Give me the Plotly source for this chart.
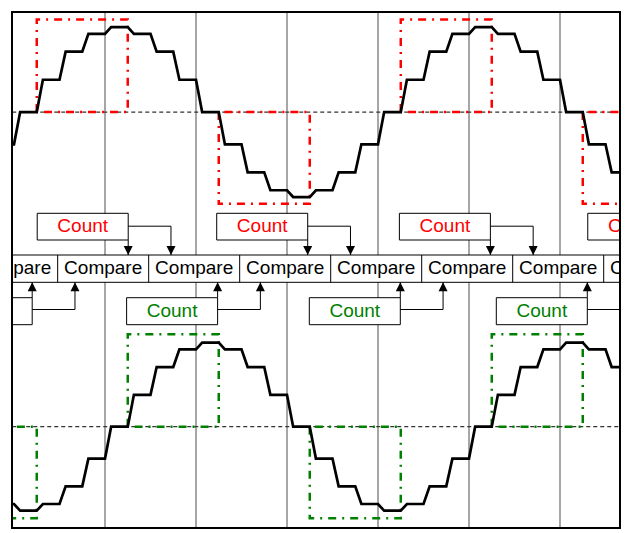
import plotly.graph_objects as go

# ── Data ─────────────────────────────────────────────────────────────────────
# sample index along the time axis (one unit = one DAC step, grid every 4)
steps = list(range(-1, 27))

# staircase levels, fraction of full scale
top_levels = [-0.38, 0, 0.38, 0.71, 0.92, 1.0, 0.92, 0.71, 0.38, 0,
              -0.38, -0.71, -0.92, -1.0, -0.92, -0.71, -0.38, 0,
              0.38, 0.71, 0.92, 1.0, 0.92, 0.71, 0.38, 0, -0.38, -0.71]
bottom_levels = [-0.92, -1.0, -0.92, -0.71, -0.38, 0, 0.38, 0.71, 0.92, 1.0,
                 0.92, 0.71, 0.38, 0, -0.38, -0.71, -0.92, -1.0, -0.92,
                 -0.71, -0.38, 0, 0.38, 0.71, 0.92, 1.0, 0.92, 0.71]

# dash-dot count windows (start sample, end sample, height)
red_start = [1, 9, 17, 25]
red_end = [5, 13, 21, 29]
red_level = [1.09, -1.08, 1.09, -1.08]

green_start = [-3, 5, 13, 21]
green_end = [1, 9, 17, 25]
green_level = [-1.09, 1.10, -1.09, 1.10]

# Count / Compare blocks along the sample axis
count_top_left = [1.02, 8.91, 16.94, 25.22]
count_bottom_left = [-3.2, 4.95, 12.98, 21.2]
compare_edges = [-2.08, 1.92, 5.92, 9.92, 13.92, 17.92, 21.92, 25.92, 29.92]
count_label = "Count"
compare_label = "Compare"

# ── Layout constants (diagram rows on y3, in page pixels) ────────────────────
COUNT_W = 4.0
ARROW_DX = 1.88
TOP_BOX = (213.3, 240.0, 226.2)     # top, bottom, arrow line
CMP_ROW = (255.0, 282.3)
BOT_BOX = (297.7, 324.7, 309.5)
FONT = "Arial, Liberation Sans, sans-serif"
FONT_SIZE = 19


def staircase(levels, rise=0.27):
    xs, ys = [steps[0]], [levels[0]]
    for k, prev, cur in zip(steps[1:], levels[:-1], levels[1:]):
        xs += [k, k + rise]
        ys += [prev, cur]
    xs.append(steps[-1] + 1)
    ys.append(levels[-1])
    return xs, ys


def windows(starts, ends, levels):
    xs, ys = [], []
    for s, e, h in zip(starts, ends, levels):
        xs += [s, s, e, e, s, None]
        ys += [0, h, h, 0, 0, None]
    return xs, ys


def boxes(lefts, width, y0, y1):
    xs, ys = [], []
    for l in lefts:
        xs += [l, l + width, l + width, l, l, None]
        ys += [y0, y0, y1, y1, y0, None]
    return xs, ys


fig = go.Figure()

# ── Waveform panels ──────────────────────────────────────────────────────────
for yref, levels, st, en, lv, col in [
        ("y", top_levels, red_start, red_end, red_level, "#ff0000"),
        ("y2", bottom_levels, green_start, green_end, green_level, "#008000")]:
    fig.add_trace(go.Scatter(x=[-1, 30], y=[0, 0], yaxis=yref, mode="lines",
                             line=dict(color="#333333", width=1.2, dash="4px,3px")))
    wx, wy = windows(st, en, lv)
    fig.add_trace(go.Scatter(x=wx, y=wy, yaxis=yref, mode="lines",
                             line=dict(color=col, width=2.5, dash="8px,6px,2px,6px")))
    sx, sy = staircase(levels)
    fig.add_trace(go.Scatter(x=sx, y=sy, yaxis=yref, mode="lines",
                             line=dict(color="black", width=2.7)))

# ── Count / Compare diagram ──────────────────────────────────────────────────
bx, by = boxes(count_top_left, COUNT_W, TOP_BOX[0], TOP_BOX[1])
fig.add_trace(go.Scatter(x=bx, y=by, yaxis="y3", mode="lines", fill="toself",
                         fillcolor="white", line=dict(color="black", width=1)))
bx, by = boxes(count_bottom_left, COUNT_W, BOT_BOX[0], BOT_BOX[1])
fig.add_trace(go.Scatter(x=bx, y=by, yaxis="y3", mode="lines", fill="toself",
                         fillcolor="white", line=dict(color="black", width=1)))

cx, cy = boxes([compare_edges[0]], compare_edges[-1] - compare_edges[0], CMP_ROW[0], CMP_ROW[1])
for e in compare_edges:
    cx += [e, e, None]
    cy += [CMP_ROW[0], CMP_ROW[1], None]
fig.add_trace(go.Scatter(x=cx, y=cy, yaxis="y3", mode="lines", fill="toself",
                         fillcolor="white", line=dict(color="black", width=1)))

# arrows from each Count block into the next two Compare cells
ax, ay, hx, hy, hs = [], [], [], [], []
for l in count_top_left:
    r = l + COUNT_W
    ax += [r, r, None, r, r + ARROW_DX, r + ARROW_DX, None]
    ay += [TOP_BOX[1], CMP_ROW[0], None, TOP_BOX[2], TOP_BOX[2], CMP_ROW[0], None]
    hx += [r, r + ARROW_DX]
    hy += [CMP_ROW[0], CMP_ROW[0]]
    hs += ["arrow-down", "arrow-down"]
for l in count_bottom_left:
    r = l + COUNT_W
    ax += [r, r, None, r, r + ARROW_DX, r + ARROW_DX, None]
    ay += [BOT_BOX[0], CMP_ROW[1], None, BOT_BOX[2], BOT_BOX[2], CMP_ROW[1], None]
    hx += [r, r + ARROW_DX]
    hy += [CMP_ROW[1], CMP_ROW[1]]
    hs += ["arrow-up", "arrow-up"]
fig.add_trace(go.Scatter(x=ax, y=ay, yaxis="y3", mode="lines",
                         line=dict(color="black", width=1)))
fig.add_trace(go.Scatter(x=hx, y=hy, yaxis="y3", mode="markers",
                         marker=dict(symbol=hs, size=9, color="black", line=dict(width=0))))

# labels
mid = lambda a, b: (a + b) / 2
fig.add_trace(go.Scatter(
    x=[mid(a, b) for a, b in zip(compare_edges[:-1], compare_edges[1:])],
    y=[mid(*CMP_ROW) + 1] * (len(compare_edges) - 1), yaxis="y3", mode="text",
    text=[compare_label] * (len(compare_edges) - 1),
    textfont=dict(family=FONT, size=FONT_SIZE, color="black")))
fig.add_trace(go.Scatter(
    x=[l + COUNT_W / 2 for l in count_top_left],
    y=[mid(TOP_BOX[0], TOP_BOX[1]) + 1] * len(count_top_left), yaxis="y3", mode="text",
    text=[count_label] * len(count_top_left),
    textfont=dict(family=FONT, size=FONT_SIZE, color="#ff0000")))
fig.add_trace(go.Scatter(
    x=[l + COUNT_W / 2 for l in count_bottom_left],
    y=[mid(BOT_BOX[0], BOT_BOX[1]) + 1] * len(count_bottom_left), yaxis="y3", mode="text",
    text=[count_label] * len(count_bottom_left),
    textfont=dict(family=FONT, size=FONT_SIZE, color="#008000")))

# ── Axes: plot area is the black frame ───────────────────────────────────────
hidden = dict(showgrid=False, zeroline=False, showticklabels=False, ticks="")
fig.update_layout(
    width=631, height=533,
    margin=dict(l=13, r=12, t=13, b=6),
    paper_bgcolor="white", plot_bgcolor="white",
    showlegend=False,
    xaxis=dict(range=[-0.044, 26.593], tick0=0, dtick=4, showgrid=True,
               gridcolor="#a6a6a6", gridwidth=2, zeroline=False,
               showticklabels=False, ticks="", showline=True, mirror=True,
               linecolor="black", linewidth=2),
    yaxis=dict(range=[-4.882, 1.165], showline=True, mirror=True,
               linecolor="black", linewidth=2, **hidden),
    yaxis2=dict(range=[-1.194, 4.925], overlaying="y", **hidden),
    yaxis3=dict(range=[527, 13], overlaying="y", **hidden),
)

fig.write_html("out.html", config={"displayModeBar": False},
               post_script="document.body.style.margin='0';")
